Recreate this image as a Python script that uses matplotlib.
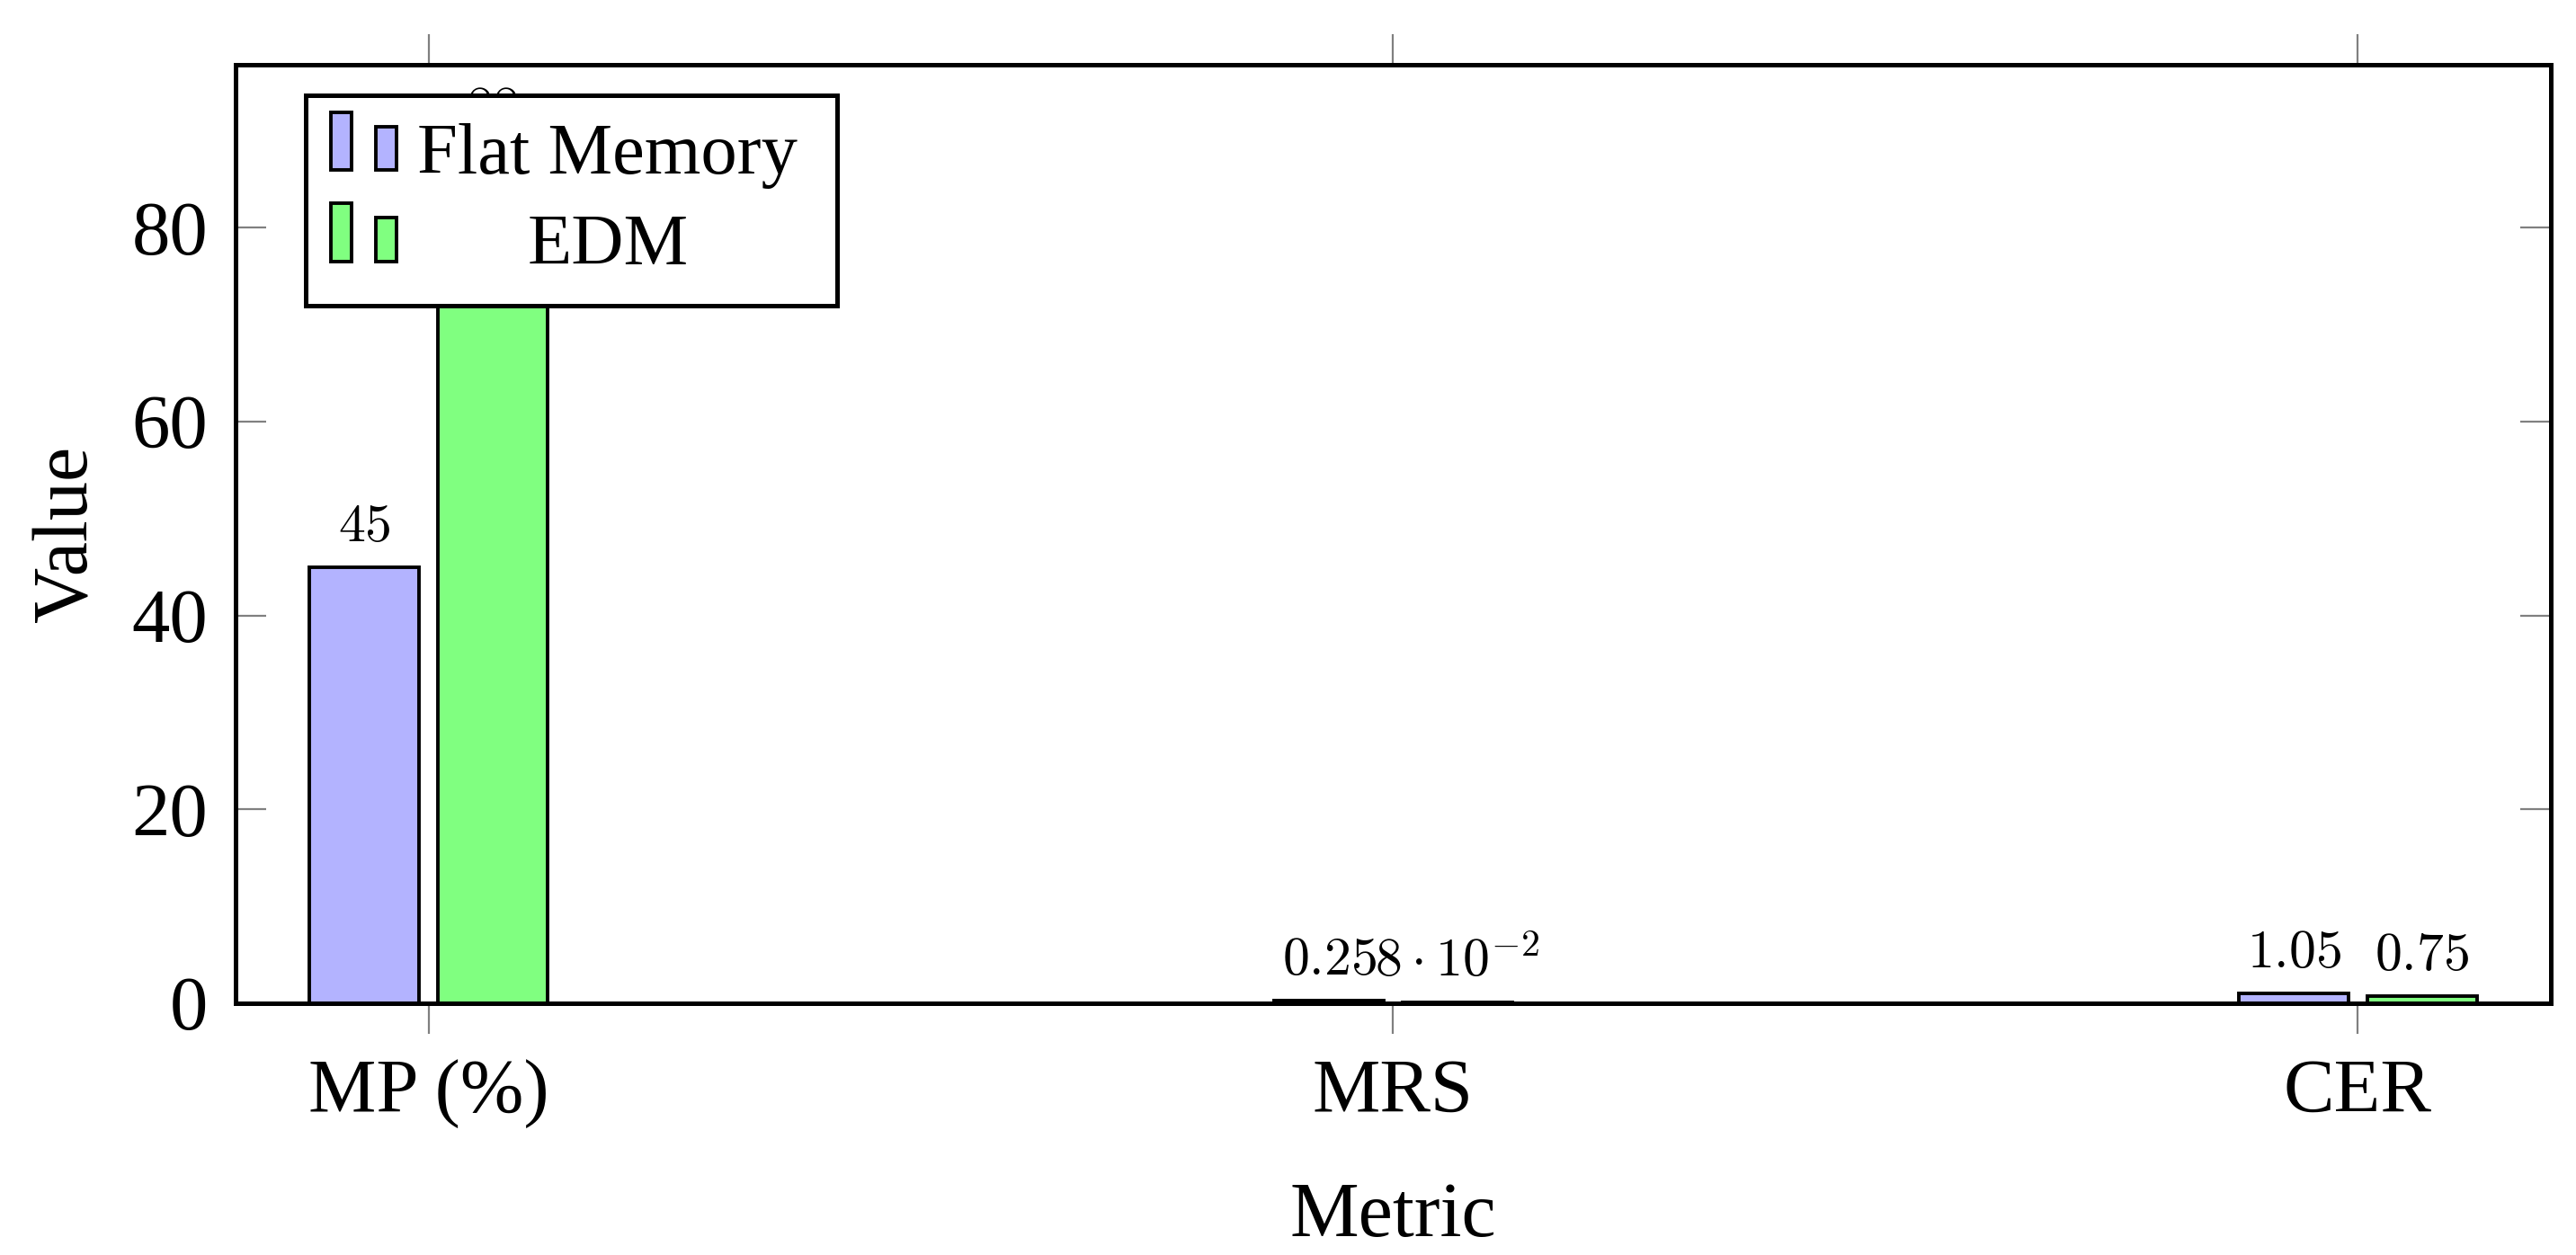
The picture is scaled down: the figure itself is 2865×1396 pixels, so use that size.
import matplotlib
matplotlib.use("Agg")
import matplotlib.pyplot as plt
from matplotlib.patches import Rectangle
import numpy as np

categories = ["MP (%)", "MRS", "CER"]
series_names = ["Flat Memory", "EDM"]
flat_values = [45, 0.25, 1.05]
edm_values = [88, 0.08, 0.75]
flat_labels = [r"$45$", r"$0.25$", r"$1.05$"]
edm_labels = [r"$88$", r"$8\cdot10^{-2}$", r"$0.75$"]
yticks = [0, 20, 40, 60, 80]

FLAT_C = "#b3b3ff"
EDM_C = "#80ff80"

W, H = 2865, 1396
DPI = 200
plt.rcParams['font.family'] = ['Liberation Serif', 'DejaVu Serif']
plt.rcParams['mathtext.fontset'] = 'cm'

fig = plt.figure(figsize=(W / DPI, H / DPI), dpi=DPI)
L, R, T, B = 262, 2837, 72, 1116
ax = fig.add_axes([L / W, 1 - B / H, (R - L) / W, (B - T) / H])

x = np.arange(len(categories))
bw = 0.114
off = 0.0665
lw_bar = 1.4
ax.bar(x - off, flat_values, bw, color=FLAT_C, edgecolor="black", linewidth=lw_bar, zorder=2)
ax.bar(x + off, edm_values, bw, color=EDM_C, edgecolor="black", linewidth=lw_bar, zorder=2)

for xi, v, lab in zip(x - off, flat_values, flat_labels):
    ax.annotate(lab, (xi, v), xytext=(0, 10.4), textcoords="offset points",
                ha="center", va="baseline", fontsize=21.5, zorder=3)
for xi, v, lab in zip(x + off, edm_values, edm_labels):
    ax.annotate(lab, (xi, v), xytext=(0, 10.4), textcoords="offset points",
                ha="center", va="baseline", fontsize=21.5, zorder=3)

ax.set_xlim(-0.2, 2.2)
ax.set_ylim(0, 96.8)
ax.set_xticks(x)
ax.set_xticklabels(categories, fontsize=30.5)
ax.set_yticks(yticks)
ax.set_yticklabels([str(t) for t in yticks], fontsize=30.5)

ax.tick_params(axis="x", direction="out", top=True, bottom=True, length=12.2,
               width=0.8, color="#808080", pad=10)
ax.tick_params(axis="y", direction="in", left=True, right=True, length=12.2,
               width=0.8, color="#808080", pad=11)
for s in ax.spines.values():
    s.set_linewidth(1.8)
    s.set_zorder(4)

ax.set_xlabel("Metric", fontsize=31)
ax.set_ylabel("Value", fontsize=31)
ax.xaxis.set_label_coords(0.5, -0.19)
ax.yaxis.set_label_coords(-0.057, 0.5)

# legend drawn manually (pgfplots style)
def fx(px):
    return px / W

def fy(py):
    return 1 - py / H

tf = fig.transFigure
fig.add_artist(Rectangle((fx(340), fy(340)), fx(931) - fx(340), fy(106) - fy(340),
                         transform=tf, facecolor="white", edgecolor="black",
                         linewidth=1.8, zorder=10))
rows = [(FLAT_C, 123, 139, 191, series_names[0], 193),
        (EDM_C, 224, 240, 293, series_names[1], 294)]
for col, ytop_a, ytop_b, ybot, name, base in rows:
    fig.add_artist(Rectangle((fx(368), fy(ybot - 2)), fx(391) - fx(368), fy(ytop_a + 2) - fy(ybot - 2),
                             transform=tf, facecolor=col, edgecolor="black",
                             linewidth=1.4, zorder=11))
    fig.add_artist(Rectangle((fx(418), fy(ybot - 2)), fx(441) - fx(418), fy(ytop_b + 2) - fy(ybot - 2),
                             transform=tf, facecolor=col, edgecolor="black",
                             linewidth=1.4, zorder=11))
    fig.text(fx(676), fy(base), name, fontsize=29, ha="center", va="baseline", zorder=12)

fig.savefig("out.png", dpi=DPI, facecolor="white")
